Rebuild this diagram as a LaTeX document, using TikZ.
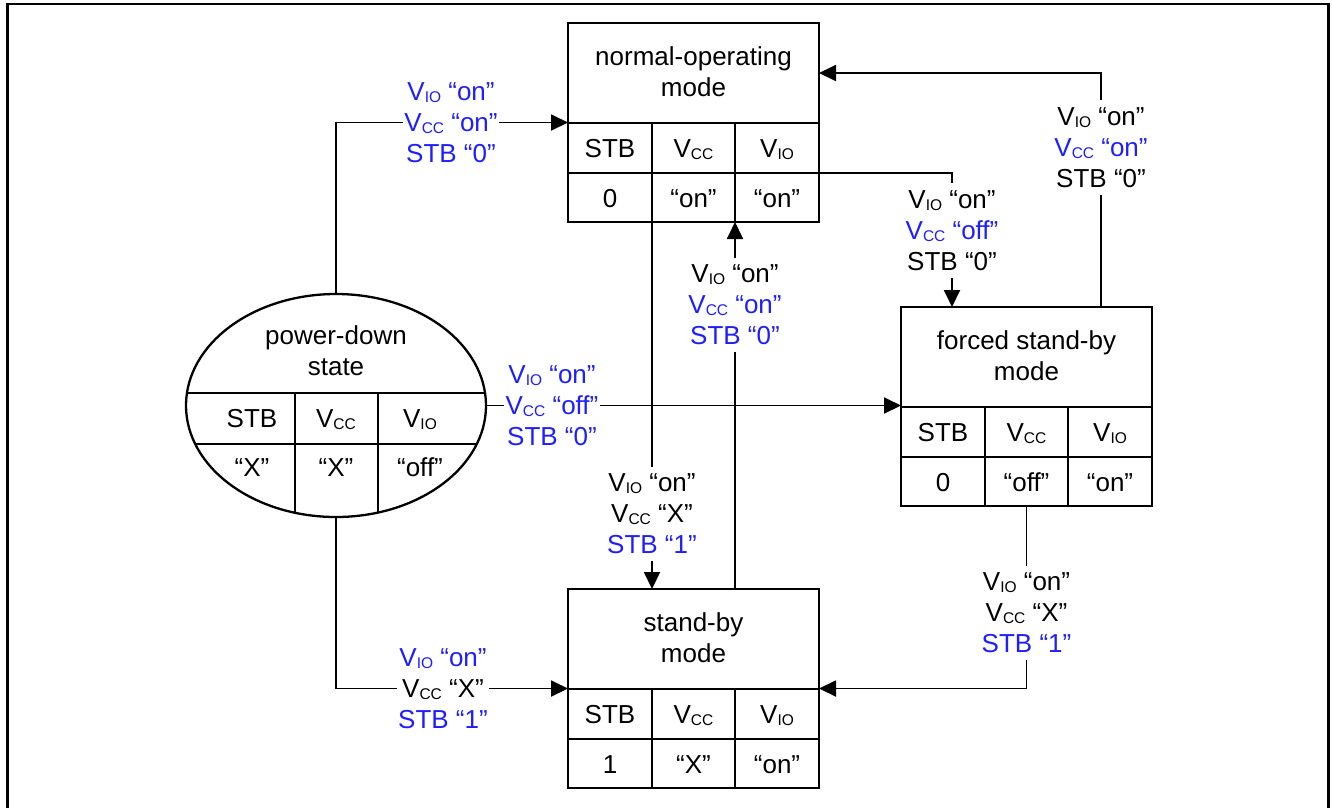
\documentclass[tikz,border=0pt]{standalone}
\usepackage{fontspec}
\setmainfont{Liberation Sans}
\usetikzlibrary{arrows.meta,shapes.geometric,calc}
\definecolor{lblue}{RGB}{30,30,255}
\newcommand\vio{V\lower2pt\hbox{\fontsize{15.5}{15.5}\selectfont IO}}
\newcommand\vcc{V\lower2pt\hbox{\fontsize{15.5}{15.5}\selectfont CC}}
\newcommand\bl[1]{\textcolor{lblue}{#1}}
\newcommand\modebox[7]{%
  \node[frame,anchor=north west] (#1) at (#2,#3) {};
  \draw[divline] (#2,{#3+100}) -- ({#2+251},{#3+100});
  \draw[cellline] (#2,{#3+150}) -- ({#2+251},{#3+150});
  \draw[cellline] ({#2+84},{#3+100}) -- ({#2+84},{#3+199});
  \draw[cellline] ({#2+167},{#3+100}) -- ({#2+167},{#3+199});
  \node[frame,anchor=north west] at (#2,#3) {};
  \node[ttl] (#1-t) at ({#2+125.5},{#3+49}) {#4};
  \node[cell] (#1-h1) at ({#2+42},{#3+125.5}) {STB};
  \node[cell] (#1-h2) at ({#2+125.5},{#3+125.5}) {\vcc};
  \node[cell] (#1-h3) at ({#2+209},{#3+125.5}) {\vio};
  \node[cell] (#1-v1) at ({#2+42},{#3+175}) {#5};
  \node[cell] (#1-v2) at ({#2+125.5},{#3+175}) {#6};
  \node[cell] (#1-v3) at ({#2+209},{#3+175}) {#7};
}
\begin{document}
\begin{tikzpicture}[x=1pt,y=-1pt,
  frame/.style={draw, line width=2.8pt, rectangle, minimum width=251pt, minimum height=199pt, inner sep=0pt, outer sep=0pt},
  divline/.style={line width=2.6pt},
  cellline/.style={line width=2pt},
  cell/.style={font=\fontsize{26}{31}\selectfont, text height=18.6pt, text depth=0pt, inner sep=0pt},
  ttl/.style={font=\fontsize{26}{31}\selectfont, align=center, inner sep=0pt},
  lbl/.style={font=\fontsize{26}{31}\selectfont, align=center, fill=white, inner xsep=1.5pt, inner ysep=7pt},
  conn/.style={line width=1.9pt},
  arr/.style={conn, -{Triangle[length=17pt,width=16pt]}}]
\useasboundingbox (0,0) rectangle (1332,807);
% outer frame
\draw[line width=2.2pt] (7.5,815) -- (7.5,3.7) -- (1328.5,3.7) -- (1328.5,815);

% mode boxes
\modebox{nm}{568}{23}{normal-operating\\mode}{0}{“on”}{“on”}
\modebox{fs}{901}{307}{forced stand-by\\mode}{0}{“off”}{“on”}
\modebox{sb}{568}{589}{stand-by\\mode}{1}{“X”}{“on”}

% power-down state ellipse
\node[ellipse, draw, line width=2.3pt, minimum width=300pt, minimum height=223pt, inner sep=0pt, outer sep=0pt] (pd) at (336,405.5) {};
\begin{scope}
  \clip (336,405.5) ellipse [x radius=150, y radius=111.5];
  \draw[divline] (180,393) -- (492,393);
  \draw[cellline] (180,444) -- (492,444);
  \draw[cellline] (295,393) -- (295,530);
  \draw[cellline] (378,393) -- (378,530);
\end{scope}
\node[ttl] (pd-t) at (336,351) {power-down\\state};
\node[cell] (pd-h1) at (252,418.5) {STB};
\node[cell] (pd-h2) at (336,418.5) {\vcc};
\node[cell] (pd-h3) at (420,418.5) {\vio};
\node[cell] (pd-v1) at (252,467) {“X”};
\node[cell] (pd-v2) at (336,467) {“X”};
\node[cell] (pd-v3) at (420,467) {“off”};

% connectors
\draw[arr] (pd.north) |- (nm.west);
\draw[arr] (pd.east) -- (pd.east -| fs.west);
\draw[arr] (pd.south) |- (sb.west);
\draw[arr] ($(nm.south west)+(84,0)$) -- ($(sb.north west)+(84,0)$);
\draw[arr] ($(sb.north west)+(167,0)$) -- ($(nm.south west)+(167,0)$);
\draw[arr] ($(nm.north east)+(0,150)$) -| ($(fs.north west)+(51,0)$);
\draw[arr] ($(fs.north west)+(200,0)$) |- ($(nm.north east)+(0,50)$);
\draw[arr] (fs.south) |- (sb.east);

% labels
\node[lbl] (l1) at (451,123) {\bl{\vio{} “on”}\\\bl{\vcc{} “on”}\\\bl{STB “0”}};
\node[lbl] (l2) at (552,406) {\bl{\vio{} “on”}\\\bl{\vcc{} “off”}\\\bl{STB “0”}};
\node[lbl] (l3) at (443,689) {\bl{\vio{} “on”}\\\vcc{} “X”\\\bl{STB “1”}};
\node[lbl] (l4) at (652,514) {\vio{} “on”\\\vcc{} “X”\\\bl{STB “1”}};
\node[lbl] (l5) at (735,305) {\vio{} “on”\\\bl{\vcc{} “on”}\\\bl{STB “0”}};
\node[lbl] (l6) at (952,230.5) {\vio{} “on”\\\bl{\vcc{} “off”}\\STB “0”};
\node[lbl] (l7) at (1101,147.5) {\vio{} “on”\\\bl{\vcc{} “on”}\\STB “0”};
\node[lbl] (l8) at (1026.5,613) {\vio{} “on”\\\vcc{} “X”\\\bl{STB “1”}};
\end{tikzpicture}
\end{document}
